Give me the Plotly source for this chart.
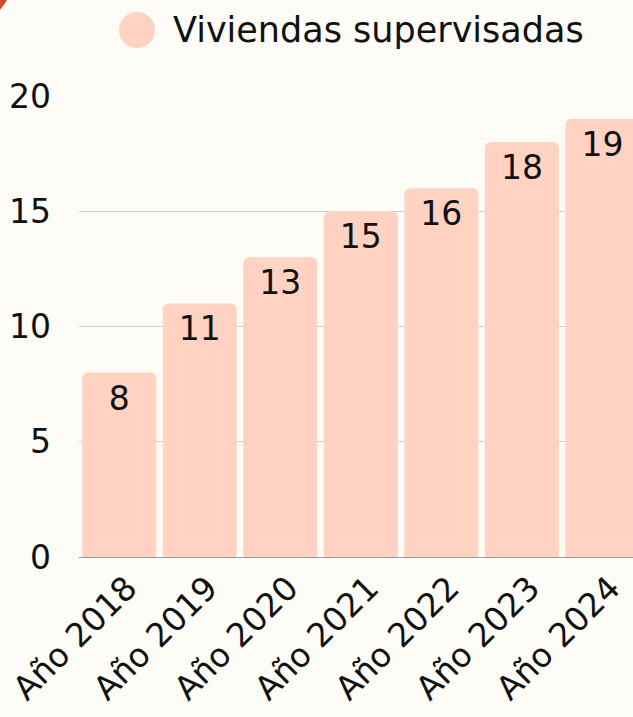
import plotly.graph_objects as go

categories = ["Año 2018", "Año 2019", "Año 2020", "Año 2021", "Año 2022", "Año 2023", "Año 2024"]
values = [8, 11, 13, 15, 16, 18, 19]
series_name = "Viviendas supervisadas"
y_ticks = [0, 5, 10, 15, 20]

W, H = 633, 717
ML, MR, MT, MB = 79, 0, 96, 160
PW, PH = W - ML - MR, H - MT - MB

def px(x):
    return (x - ML) / PW

def py(y):
    return (H - MB - y) / PH

FONT = "DejaVu Sans"
BAR = "#FFD2C1"
BG = "#FDFCF7"
INK = "#111111"

fig = go.Figure()
fig.add_trace(go.Bar(
    x=categories, y=values, name=series_name,
    marker=dict(color=BAR, line=dict(width=0)),
    text=[str(v) for v in values],
    textposition="inside", insidetextanchor="end",
    textfont=dict(family=FONT, size=33, color=INK),
    showlegend=False,
))

fig.update_layout(
    width=W, height=H,
    margin=dict(l=ML, r=MR, t=MT, b=MB),
    paper_bgcolor=BG, plot_bgcolor=BG,
    bargap=0.081, barcornerradius=6,
    font=dict(family=FONT, color=INK),
    xaxis=dict(range=[-0.5, 6.38], tickangle=-45,
               tickfont=dict(family=FONT, size=33, color=INK),
               ticklabelshift=8, ticklabelstandoff=4,
               showgrid=False, showline=False, ticks=""),
    yaxis=dict(range=[0, 20], tickvals=y_ticks,
               tickfont=dict(family=FONT, size=33, color=INK),
               showgrid=True, gridcolor="#CFCFCF", gridwidth=1,
               zeroline=True, zerolinecolor="#9A9A9A", zerolinewidth=1,
               ticklabelstandoff=27, showline=False, ticks=""),
    shapes=[
        dict(type="circle", xref="paper", yref="paper",
             x0=px(-52 - 68), x1=px(-52 + 68), y0=py(-34 + 68), y1=py(-34 - 68),
             fillcolor="#D24A2E", line=dict(width=0), layer="above"),
        dict(type="circle", xref="paper", yref="paper",
             x0=px(119), x1=px(155), y0=py(48), y1=py(12),
             fillcolor=BAR, line=dict(width=0)),
    ],
    annotations=[
        dict(text=series_name, xref="paper", yref="paper",
             x=px(171), y=py(30), xanchor="left", yanchor="middle",
             showarrow=False, font=dict(family=FONT, size=35, color=INK)),
    ],
)

fig.write_html("out.html", config={"displayModeBar": False},
               post_script="document.body.style.margin='0';document.body.style.overflow='hidden';")
